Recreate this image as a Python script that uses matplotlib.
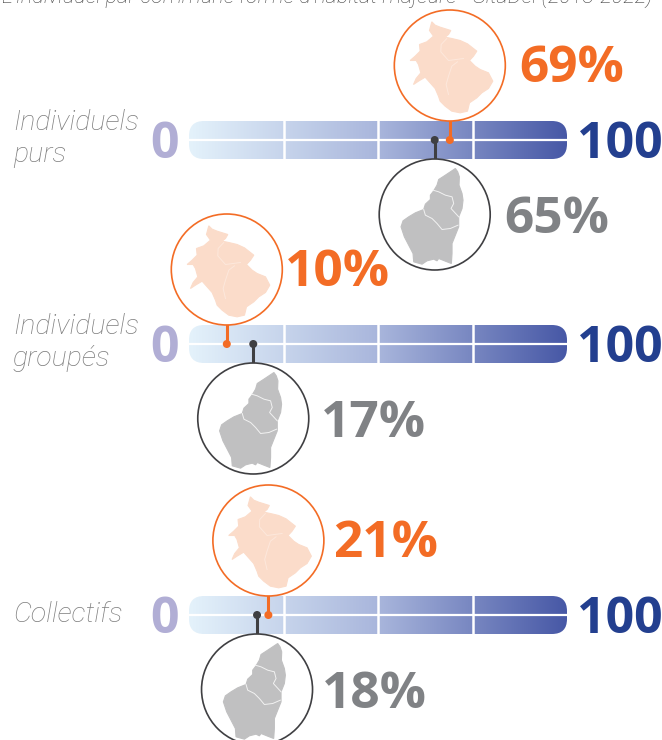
import matplotlib
matplotlib.use('Agg')
import matplotlib.pyplot as plt
from matplotlib.colors import LinearSegmentedColormap
from matplotlib.patches import Circle, FancyBboxPatch, Polygon
import numpy as np

categories = ['Individuels\npurs', 'Individuels\ngroupés', 'Collectifs']
territory_values = [69, 10, 21]
ardeche_values = [65, 17, 18]
scale_min = 0
scale_max = 100
scale_ticks = [25, 50, 75]
title = "L'individuel par commune forme d'habitat majeure - SitaDel (2013-2022)"

# map outlines traced at 3x, see trace() below
territory_shape = [(155, 62), (165, 72), (180, 78), (212, 88), (205, 100), (195, 108), (215, 112),
                   (240, 118), (262, 128), (290, 150), (280, 165), (268, 178), (285, 195),
                   (300, 205), (325, 215), (338, 240), (325, 262), (305, 275), (290, 290),
                   (268, 305), (262, 330), (240, 335), (215, 330), (195, 315), (180, 300),
                   (175, 285), (165, 262), (150, 245), (135, 228), (115, 240), (100, 250),
                   (108, 232), (122, 215), (115, 190), (108, 178), (90, 178), (105, 165),
                   (120, 150), (118, 130), (140, 122), (160, 105), (148, 88)]
territory_lines = [[(200, 112), (183, 130), (182, 152), (205, 178), (250, 172)],
                   [(232, 182), (215, 195), (205, 225), (198, 250), (205, 280)]]
territory_centre = (209, 193)
ardeche_shape = [(225, 505), (232, 515), (237, 530), (236, 555), (245, 580), (248, 600), (245, 625),
                 (235, 650), (235, 680), (225, 705), (215, 730), (215, 760), (213, 790), (195, 783),
                 (175, 775), (170, 782), (160, 777), (140, 782), (125, 792), (100, 785), (98, 760),
                 (85, 735), (72, 710), (62, 680), (68, 662), (85, 650), (105, 638), (130, 628),
                 (135, 612), (150, 598), (150, 585), (160, 572), (170, 555), (175, 538), (195, 525),
                 (210, 515)]
ardeche_lines = [[(158, 570), (175, 575), (195, 585), (215, 590), (220, 610), (212, 625), (235, 650)],
                 [(130, 628), (135, 645), (155, 655), (170, 670), (185, 688), (210, 685), (233, 675)]]
ardeche_centre = (163, 643)

orange = '#f36c25'
dark = '#3f3f42'
grey_text = '#808285'

bar_left = 189
bar_right = 567
bar_tops = [121, 325, 596]
bar_height = 38
corner = 15
radius = 55.5
territory_label_x = [519, 285, 333]
ardeche_label_x = [504, 321, 322]

fig = plt.figure(figsize=(6.62, 7.40), dpi=100)
ax = fig.add_axes([0, 0, 1, 1])
ax.set_xlim(0, 662)
ax.set_ylim(740, 0)
ax.axis('off')

cmap = LinearSegmentedColormap.from_list('bar', ['#e4f2fb', '#a9b6dc', '#4758a6'])
gradient = np.linspace(0, 1, 256).reshape(1, -1)


def to_x(value):
    return bar_left + (value - scale_min) / (scale_max - scale_min) * (bar_right - bar_left)


def trace(points, centre, cx, cy):
    return [(cx + (x - centre[0]) / 3, cy + (y - centre[1]) / 3) for x, y in points]


def draw_map(cx, cy, shape, lines, centre, fill, line_color):
    ax.add_patch(Polygon(trace(shape, centre, cx, cy), closed=True, fc=fill, ec=fill, lw=0.8,
                         zorder=6))
    for line in lines:
        pts = trace(line, centre, cx, cy)
        ax.plot([p[0] for p in pts], [p[1] for p in pts], color=line_color, lw=0.7, zorder=7)


def marker(value, bar_y, cy, shape, lines, centre, color, fill, line_color):
    x = to_x(value)
    ax.plot([x, x], [bar_y, cy], color=color, lw=2.2, zorder=4, solid_capstyle='butt')
    ax.add_patch(Circle((x, cy), radius, fc='white', ec=color, lw=1.2, zorder=5))
    ax.add_patch(Circle((x, bar_y), 4, fc=color, ec='none', zorder=8))
    draw_map(x, cy, shape, lines, centre, fill, line_color)


for i, category in enumerate(categories):
    top = bar_tops[i]
    bottom = top + bar_height
    mid = (top + bottom) / 2

    img = ax.imshow(gradient, extent=[bar_left, bar_right, bottom, top], cmap=cmap,
                    aspect='auto', zorder=2)
    clip = FancyBboxPatch((bar_left + corner, top + corner), bar_right - bar_left - 2 * corner,
                          bar_height - 2 * corner,
                          boxstyle='round,pad=%d,rounding_size=%d' % (corner, corner),
                          fc='none', ec='none', transform=ax.transData)
    ax.add_patch(clip)
    img.set_clip_path(clip)

    ax.plot([bar_left, bar_right], [mid, mid], color='white', lw=1.6, zorder=3)
    for tick in scale_ticks:
        ax.plot([to_x(tick)] * 2, [top, bottom], color='white', lw=1.8, zorder=3)

    ax.text(165, bottom - 1, str(scale_min), color='#b1aed5', fontsize=36, fontweight='bold',
            family='Open Sans', ha='center', va='baseline')
    ax.text(577, bottom - 1, str(scale_max), color='#233f8f', fontsize=36, fontweight='bold',
            family='Open Sans', ha='left', va='baseline')

    lines = category.split('\n')
    start = mid - 17 if len(lines) > 1 else mid
    for j, line in enumerate(lines):
        ax.text(13, start + j * 32, line, color='#7d7d7d', fontsize=20.5, style='italic',
                family='Roboto', fontweight='light', ha='left', va='center')

    marker(territory_values[i], mid, top - radius, territory_shape, territory_lines,
           territory_centre, orange, '#fbdcca', '#fde8dc')
    marker(ardeche_values[i], mid, bottom + radius, ardeche_shape, ardeche_lines,
           ardeche_centre, dark, '#c0c0c1', '#f2f2f2')

    ax.text(territory_label_x[i], top - 39, '%d%%' % territory_values[i], color=orange,
            fontsize=37, fontweight='bold', family='Open Sans', ha='left', va='baseline')
    ax.text(ardeche_label_x[i], bottom + 74, '%d%%' % ardeche_values[i], color=grey_text,
            fontsize=37, fontweight='bold', family='Open Sans', ha='left', va='baseline')

ax.text(2, 2.5, title, color='#444444', fontsize=15.7, style='italic', family='Roboto',
        fontweight='light', ha='left', va='baseline')

fig.savefig('out.png', dpi=100)
